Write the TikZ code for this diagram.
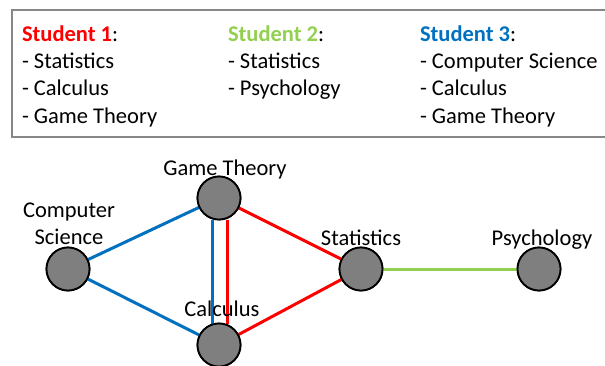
\documentclass[tikz,border=0pt]{standalone}
\usepackage{fontspec}
\setmainfont{Carlito}
\definecolor{sred}{HTML}{FF0000}
\definecolor{sgreen}{HTML}{92D050}
\definecolor{sblue}{HTML}{0070C0}
\definecolor{nodegray}{HTML}{7F7F7F}
\definecolor{boxgray}{HTML}{878787}
\begin{document}
\begin{tikzpicture}[x=1pt,y=-1pt,
  every node/.style={inner sep=0pt,outer sep=0pt},
  txt/.style={font=\fontsize{22.5}{27.5}\selectfont},
  course/.style={circle,draw=black,line width=1.8pt,fill=nodegray,minimum size=43pt},
  edge/.style={line width=3pt}]
\useasboundingbox (0,0) rectangle (605,365);
\draw[boxgray,line width=2pt] (12,10) rectangle (610,137);
% legend
\node[txt,anchor=base west] (s1) at (22,41) {\textcolor{sred}{\textbf{Student 1}}:};
\node[txt,anchor=base west] (s1a) at (22,68.4) {- Statistics};
\node[txt,anchor=base west] (s1b) at (22,95.8) {- Calculus};
\node[txt,anchor=base west] (s1c) at (22,123.2) {- Game Theory};
\node[txt,anchor=base west] (s2) at (228,41) {\textcolor{sgreen}{\textbf{Student 2}}:};
\node[txt,anchor=base west] (s2a) at (228,68.4) {- Statistics};
\node[txt,anchor=base west] (s2b) at (228,95.8) {- Psychology};
\node[txt,anchor=base west] (s3) at (420,41) {\textcolor{sblue}{\textbf{Student 3}}:};
\node[txt,anchor=base west] (s3a) at (420,68.4) {- Computer Science};
\node[txt,anchor=base west] (s3b) at (420,95.8) {- Calculus};
\node[txt,anchor=base west] (s3c) at (420,123.2) {- Game Theory};
% graph nodes
\node[course] (gt) at (219,198) {};
\node[course] (cs) at (68,269) {};
\node[course] (ca) at (219,345) {};
\node[course] (st) at (361,269) {};
\node[course] (ps) at (539,269) {};
% edges
\begin{scope}[on background layer/.try]
\end{scope}
\draw[edge,sblue] (cs) -- (gt);
\draw[edge,sblue] (cs) -- (ca);
\draw[edge,sblue] ([xshift=-7pt]gt.south) -- ([xshift=-7pt]ca.north);
\draw[edge,sred] ([xshift=8pt]gt.south) -- ([xshift=8pt]ca.north);
\draw[edge,sred] (gt) -- (st);
\draw[edge,sred] (ca) -- (st);
\draw[edge,sgreen] (st) -- (ps);
% redraw nodes on top
\node[course] at (gt) {};
\node[course] at (cs) {};
\node[course] at (ca) {};
\node[course] at (st) {};
\node[course] at (ps) {};
% labels
\node[txt,anchor=base] (lgt) at (225,175) {Game Theory};
\node[txt,anchor=base,align=center] (lcs1) at (69,217.5) {Computer};
\node[txt,anchor=base] (lcs2) at (69,244) {Science};
\node[txt,anchor=base] (lca) at (222,316.5) {Calculus};
\node[txt,anchor=base] (lst) at (361,245) {Statistics};
\node[txt,anchor=base] (lps) at (542,245.5) {Psychology};
\end{tikzpicture}
\end{document}
